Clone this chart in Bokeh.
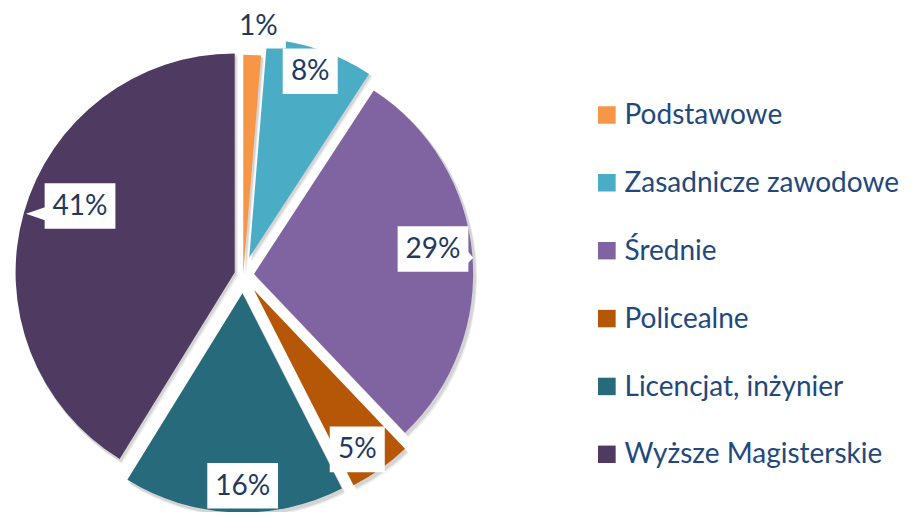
import math
from bokeh.plotting import figure
from bokeh.models import Range1d
from bokeh.core.properties import value
from bokeh.embed import file_html
from bokeh.resources import INLINE

# ---- data ----
categories = ["Podstawowe", "Zasadnicze zawodowe", "Średnie", "Policealne",
              "Licencjat, inżynier", "Wyższe Magisterskie"]
shares = [1.3, 7.9, 28.7, 4.6, 16.3, 41.2]
colors = ["#F79646", "#4BACC6", "#8064A2", "#B65708", "#276A7C", "#4F3B62"]

# ---- layout (reference pixel coords 924x528, y down) ----
W, H = 908, 512
REF_W, REF_H = 924, 528
CX, CY, R = 247, 283, 223
explode = [1, 19, 11, 19, 19, 9]
label_dist = [1.15, 0.905, 0.825, 0.875, 0.89, 0.77]
label_nudge = [1.1, -1.0, -2.8, 2.7, -2.4, 7.7]
LABEL_COLOR = "#1F3A60"
LEGEND_COLOR = "#1F497D"
FONT = "Lato"
TEXT_DY = -2


def Y(py):
    return REF_H - py


p = figure(width=W, height=H, x_range=Range1d(0, REF_W), y_range=Range1d(0, REF_H),
           output_backend="svg", toolbar_location=None, min_border=0,
           x_axis_location=None, y_axis_location=None)
p.grid.visible = False
p.outline_line_color = None
p.background_fill_color = "white"
p.border_fill_color = "white"

total = sum(shares)
cum = 0.0
slices = []
for i, v in enumerate(shares):
    t0 = cum / total * 360.0
    cum += v
    t1 = cum / total * 360.0
    mid = (t0 + t1) / 2
    ox = CX + explode[i] * math.sin(math.radians(mid))
    oy = CY - explode[i] * math.cos(math.radians(mid))
    slices.append((t0, t1, mid, ox, oy))

# soft shadows
for (t0, t1, mid, ox, oy) in slices:
    for dx, dy, a in [(3, 4, 0.07), (2, 2.5, 0.10)]:
        p.wedge(x=ox + dx, y=Y(oy + dy), radius=R + 1,
                start_angle=math.radians(90 - t1), end_angle=math.radians(90 - t0),
                fill_color="black", fill_alpha=a, line_color=None)

# slices
for i, (t0, t1, mid, ox, oy) in enumerate(slices):
    p.wedge(x=ox, y=Y(oy), radius=R,
            start_angle=math.radians(90 - t1), end_angle=math.radians(90 - t0),
            fill_color=colors[i], line_color=None)

# data labels
lx, ly, lt, bw = [], [], [], []
for i, (t0, t1, mid, ox, oy) in enumerate(slices):
    ang = math.radians(mid + label_nudge[i])
    d = label_dist[i] * R
    x = ox + d * math.sin(ang)
    y = oy - d * math.cos(ang)
    txt = f"{round(shares[i])}%"
    lx.append(x)
    ly.append(y)
    lt.append(txt)
    bw.append(24 + 16 * len(txt))

# callout pointers (41% to the left, 29% to the right)
i41 = 5
bl = lx[i41] - bw[i41] / 2
p.patch([bl + 1, bl + 1, bl - 19], [Y(ly[i41] + 1), Y(ly[i41] + 15), Y(ly[i41] + 8)],
        fill_color="white", line_color=None)
i29 = 2
br = lx[i29] + bw[i29] / 2
p.patch([br - 1, br - 1, br + 5], [Y(ly[i29] + 2), Y(ly[i29] + 15), Y(ly[i29] + 9)],
        fill_color="white", line_color=None)

p.rect(x=lx, y=[Y(v) for v in ly], width=bw, height=47,
       fill_color="white", line_color=None)
p.text(x=lx, y=[Y(v + TEXT_DY) for v in ly], text=lt, text_font=value(FONT),
       text_font_size="28px", text_align="center", text_baseline="middle",
       text_color=LABEL_COLOR)

# legend
LX, LY0, LSTEP = 617, 118, 70
leg_y = [Y(LY0 + LSTEP * i) for i in range(len(categories))]
p.rect(x=[LX] * len(categories), y=leg_y, width=18, height=18,
       fill_color=colors, line_color=None)
p.text(x=[LX + 18] * len(categories), y=[v - TEXT_DY for v in leg_y], text=categories,
       text_font=value(FONT), text_font_size="28px", text_align="left",
       text_baseline="middle", text_color=LEGEND_COLOR)

open("out.html", "w").write(file_html(p, INLINE))
